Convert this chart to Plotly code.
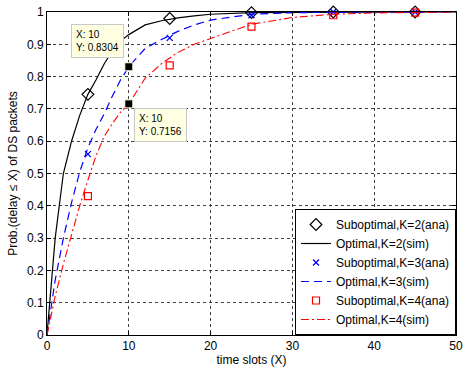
import plotly.graph_objects as go

# Curve sample points (time slots)
x_curve = [0, 1, 2, 3, 4, 5, 6, 7, 8, 9, 10, 12, 14, 16, 18, 20, 25, 30, 35, 40, 45, 50]
opt_k2 = [0, 0.30, 0.50, 0.60, 0.68, 0.745, 0.79, 0.84, 0.88, 0.91, 0.93, 0.96, 0.973, 0.982, 0.988, 0.993, 0.998, 0.999, 1, 1, 1, 1]
opt_k3 = [0, 0.17, 0.30, 0.41, 0.505, 0.58, 0.637, 0.685, 0.74, 0.79, 0.8304, 0.887, 0.915, 0.94, 0.96, 0.975, 0.993, 0.998, 0.999, 1, 1, 1]
opt_k4 = [0, 0.12, 0.22, 0.31, 0.40, 0.48, 0.555, 0.615, 0.655, 0.69, 0.7156, 0.795, 0.84, 0.875, 0.90, 0.918, 0.962, 0.983, 0.993, 0.997, 0.999, 1.0]

# Analytical markers
x_marks = [5, 15, 25, 35, 45]
sub_k2 = [0.745, 0.98, 0.998, 1.0, 1.0]
sub_k3 = [0.56, 0.92, 0.99, 1.0, 1.0]
sub_k4 = [0.43, 0.835, 0.955, 0.99, 0.998]

# Data tips
tip_x = [10, 10]
tip_y = [0.8304, 0.7156]

FONT = "Liberation Sans, Arial, sans-serif"

fig = go.Figure()
fig.add_trace(go.Scatter(x=x_marks, y=sub_k2, mode="markers", name="Suboptimal,K=2(ana)",
                         marker=dict(symbol="diamond-open", size=9, color="black", line=dict(width=1.2)),
                         cliponaxis=False))
fig.add_trace(go.Scatter(x=x_curve, y=opt_k2, mode="lines", name="Optimal,K=2(sim)",
                         line=dict(color="black", width=1.2)))
fig.add_trace(go.Scatter(x=x_marks, y=sub_k3, mode="markers", name="Suboptimal,K=3(ana)",
                         marker=dict(symbol="x-thin-open", size=6, color="blue", line=dict(width=1.3, color="blue")),
                         cliponaxis=False))
fig.add_trace(go.Scatter(x=x_curve, y=opt_k3, mode="lines", name="Optimal,K=3(sim)",
                         line=dict(color="blue", width=1.2, dash="8px,5px")))
fig.add_trace(go.Scatter(x=x_marks, y=sub_k4, mode="markers", name="Suboptimal,K=4(ana)",
                         marker=dict(symbol="square-open", size=7, color="red", line=dict(width=1.2)),
                         cliponaxis=False))
fig.add_trace(go.Scatter(x=x_curve, y=opt_k4, mode="lines", name="Optimal,K=4(sim)",
                         line=dict(color="red", width=1.1, dash="8px,3px,2px,3px")))
fig.add_trace(go.Scatter(x=tip_x, y=tip_y, mode="markers", showlegend=False,
                         marker=dict(symbol="square", size=8, color="black",
                                     line=dict(width=1, color="#ffffe1"))))

tip_common = dict(xref="x", yref="y", showarrow=False, align="left",
                  bgcolor="#ffffe1", bordercolor="#c8c8c8", borderwidth=1, borderpad=4,
                  font=dict(family=FONT, size=10, color="black"))
fig.add_annotation(x=tip_x[0], y=tip_y[0], text=f"X: {tip_x[0]}<br>Y: {tip_y[0]}",
                   xanchor="right", yanchor="bottom", xshift=-5, yshift=9, **tip_common)
fig.add_annotation(x=tip_x[1], y=tip_y[1], text=f"X: {tip_x[1]}<br>Y: {tip_y[1]}",
                   xanchor="left", yanchor="top", xshift=5, yshift=-4, **tip_common)

axis_common = dict(showline=True, linecolor="black", linewidth=1, mirror="ticks",
                   ticks="inside", ticklen=4, tickcolor="black", automargin=False,
                   ticklabeloverflow="allow",
                   showgrid=True, gridcolor="#404040", griddash="dot", gridwidth=1,
                   zeroline=False, tickfont=dict(family=FONT, size=12, color="black"))

fig.update_xaxes(range=[0, 50], tickvals=[0, 10, 20, 30, 40, 50],
                 title=dict(text="time slots (X)", font=dict(family=FONT, size=12, color="black"), standoff=0),
                 **axis_common)
fig.update_yaxes(range=[0, 1], tickvals=[0, 0.1, 0.2, 0.3, 0.4, 0.5, 0.6, 0.7, 0.8, 0.9, 1],
                 ticktext=["0", "0.1", "0.2", "0.3", "0.4", "0.5", "0.6", "0.7", "0.8", "0.9", "1"],
                 title=dict(text="Prob.(delay ≤ X) of DS packets", font=dict(family=FONT, size=12, color="black"), standoff=6),
                 **axis_common)

fig.update_layout(
    width=464, height=367,
    margin=dict(l=47, r=8, t=12, b=32),
    paper_bgcolor="white", plot_bgcolor="white",
    font=dict(family=FONT, size=12, color="black"),
    legend=dict(x=1, y=0, xanchor="right", yanchor="bottom",
                bgcolor="white", bordercolor="black", borderwidth=1,
                font=dict(family=FONT, size=12, color="black"),
                tracegroupgap=0, itemwidth=30),
)

# Remove the default page body margin so the figure sits at the window's top-left corner.
fig.write_html("out.html", config={"displayModeBar": False},
               post_script="document.body.style.margin='0';")
